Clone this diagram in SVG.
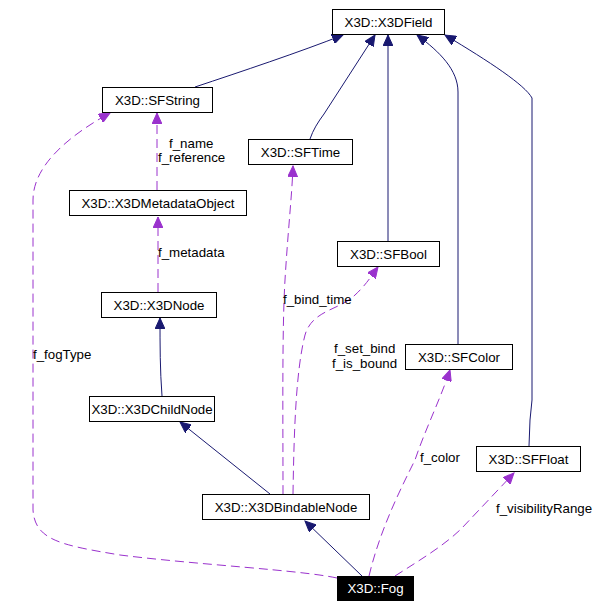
<svg xmlns="http://www.w3.org/2000/svg" width="603" height="607" viewBox="0 0 603 607">
<style>
  .box { fill: #ffffff; stroke: #000000; stroke-width: 1; }
  .box-dark { fill: #000000; stroke: #000000; stroke-width: 1; }
  .t { font-family: "Liberation Sans", Arial, sans-serif; font-size: 13.3px; fill: #000000; text-anchor: middle; }
  .tw { font-family: "Liberation Sans", Arial, sans-serif; font-size: 13.3px; fill: #ffffff; text-anchor: middle; }
  .lbl { font-family: "Liberation Sans", Arial, sans-serif; font-size: 13.3px; fill: #000000; }
  .inh { fill: none; stroke: #191970; stroke-width: 1; }
  .use { fill: none; stroke: #9a32cd; stroke-width: 1; stroke-dasharray: 9,5; }
</style>
<defs>
  <marker id="ah-navy" markerUnits="userSpaceOnUse" markerWidth="12" markerHeight="10" refX="11" refY="5" orient="auto">
    <path d="M0,0 L11,5 L0,10 z" fill="#191970" stroke="#191970" stroke-width="1"/>
  </marker>
  <marker id="ah-purple" markerUnits="userSpaceOnUse" markerWidth="12" markerHeight="10" refX="11" refY="5" orient="auto">
    <path d="M0,0 L11,5 L0,10 z" fill="#9a32cd" stroke="#9a32cd" stroke-width="1"/>
  </marker>
</defs>
<rect width="603" height="607" fill="#ffffff"/>

<g id="connectors">
  <path class="inh" d="M195,87 C240,72 300,52 343,35" marker-end="url(#ah-navy)"/>
  <path class="inh" d="M310,139 C313,130 318,122 324,114 L375,35" marker-end="url(#ah-navy)"/>
  <path class="inh" d="M388,241 L388,35" marker-end="url(#ah-navy)"/>
  <path class="inh" d="M458,344 L458,92 C458,70 440,52 417,35" marker-end="url(#ah-navy)"/>
  <path class="inh" d="M529,446 L530,420 L532,400 L532,98 C525,85 490,62 445,35" marker-end="url(#ah-navy)"/>
  <path class="inh" d="M162,396 C160,370 160,345 160,318" marker-end="url(#ah-navy)"/>
  <path class="inh" d="M270,494 L180,422" marker-end="url(#ah-navy)"/>
  <path class="inh" d="M362,576 L305,521" marker-end="url(#ah-navy)"/>

  <path class="use" d="M158,292 L158,217" marker-end="url(#ah-purple)"/>
  <path class="use" d="M157,190 L157,113" marker-end="url(#ah-purple)"/>
  <path class="use" d="M283,494 C283,420 282,330 285,280 C288,230 292,195 293,166" marker-end="url(#ah-purple)"/>
  <path class="use" d="M293,494 C294,430 296,370 305,335 C312,310 340,310 355,295 C366,285 372,275 378,267" marker-end="url(#ah-purple)"/>
  <path class="use" d="M337,578 C300,570 200,565 120,555 C60,545 35,540 33,510 L33,200 C33,165 70,135 110,113" marker-end="url(#ah-purple)"/>
  <path class="use" d="M369,576 C380,530 400,490 415,460 C425,430 440,400 450,370" marker-end="url(#ah-purple)"/>
  <path class="use" d="M395,576 C420,560 445,545 462,528 L514,473" marker-end="url(#ah-purple)"/>

  <text class="lbl" x="169" y="148">f_name</text>
  <text class="lbl" x="158" y="162">f_reference</text>
  <text class="lbl" x="158" y="257">f_metadata</text>
  <text class="lbl" x="33" y="359">f_fogType</text>
  <text class="lbl" x="283" y="304">f_bind_time</text>
  <text class="lbl" x="334" y="353">f_set_bind</text>
  <text class="lbl" x="332" y="368">f_is_bound</text>
  <text class="lbl" x="420" y="462">f_color</text>
  <text class="lbl" x="496" y="513">f_visibilityRange</text>
</g>

<g id="X3DField"><rect class="box" x="332.5" y="9.5" width="112" height="25"/><text class="t" x="388.5" y="27">X3D::X3DField</text></g>
<g id="SFString"><rect class="box" x="102.5" y="87.5" width="110" height="25"/><text class="t" x="157.5" y="105">X3D::SFString</text></g>
<g id="SFTime"><rect class="box" x="248.5" y="139.5" width="104" height="25"/><text class="t" x="300.5" y="157">X3D::SFTime</text></g>
<g id="X3DMetadataObject"><rect class="box" x="69.5" y="190.5" width="177" height="25"/><text class="t" x="158" y="208">X3D::X3DMetadataObject</text></g>
<g id="SFBool"><rect class="box" x="337.5" y="241.5" width="102" height="25"/><text class="t" x="388.5" y="259">X3D::SFBool</text></g>
<g id="X3DNode"><rect class="box" x="101.5" y="292.5" width="115" height="25"/><text class="t" x="159" y="310">X3D::X3DNode</text></g>
<g id="SFColor"><rect class="box" x="405.5" y="344.5" width="107" height="25"/><text class="t" x="459" y="362">X3D::SFColor</text></g>
<g id="X3DChildNode"><rect class="box" x="89.5" y="396.5" width="125" height="25"/><text class="t" x="152" y="414">X3D::X3DChildNode</text></g>
<g id="SFFloat"><rect class="box" x="476.5" y="446.5" width="104" height="25"/><text class="t" x="528.5" y="464">X3D::SFFloat</text></g>
<g id="X3DBindableNode"><rect class="box" x="202.5" y="494.5" width="167" height="25"/><text class="t" x="286" y="512">X3D::X3DBindableNode</text></g>
<g id="Fog"><rect class="box-dark" x="337.5" y="576.5" width="76" height="24"/><text class="tw" x="375.5" y="593">X3D::Fog</text></g>
</svg>
